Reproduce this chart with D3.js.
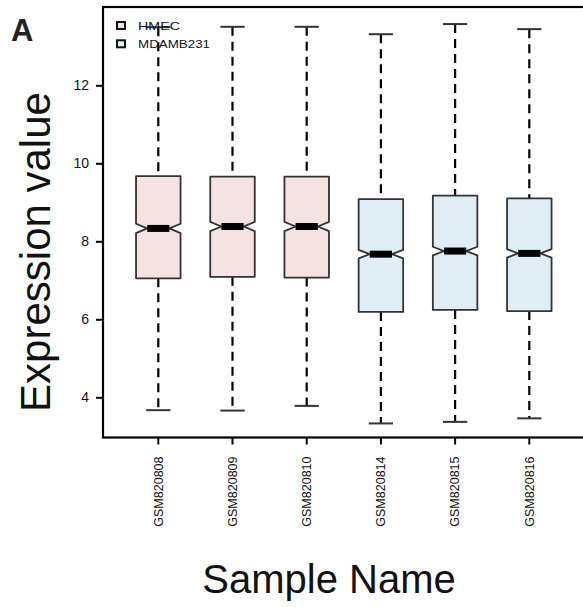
<!DOCTYPE html>
<html>
<head>
<meta charset="utf-8">
<script src="https://cdn.jsdelivr.net/npm/d3@7"></script>
<style>
  body { margin: 0; background: #fff; }
  svg { display: block; font-family: 'Liberation Sans', Arial, sans-serif; }
</style>
</head>
<body>
<div id="chart"></div>
<script>
var samples = ['GSM820808', 'GSM820809', 'GSM820810', 'GSM820814', 'GSM820815', 'GSM820816']
var groups = ['HMEC', 'HMEC', 'HMEC', 'MDAMB231', 'MDAMB231', 'MDAMB231']
var lowWhisker = [3.67, 3.66, 3.78, 3.33, 3.37, 3.46]
var q1 = [7.05, 7.09, 7.07, 6.19, 6.24, 6.21]
var median = [8.33, 8.38, 8.38, 7.67, 7.75, 7.69]
var q3 = [9.67, 9.66, 9.66, 9.08, 9.17, 9.10]
var highWhisker = [13.49, 13.5, 13.5, 13.31, 13.57, 13.44]
var notch = [0.12, 0.12, 0.12, 0.11, 0.11, 0.11]
var yTicks = [4, 6, 8, 10, 12]
var legendGroups = ['HMEC', 'MDAMB231']
var groupColors = ['#f5e2e2', '#e0edf5']

var width = 583
var height = 607
var plot = { left: 103, right: 592, top: 7, bottom: 437.5 }
var font = "'Liberation Sans', Arial, sans-serif"

var svg = d3.select('#chart').append('svg')
  .attr('width', width)
  .attr('height', height)

var y = d3.scaleLinear()
  .domain([4, 12])
  .range([397.3, 85.3])

var x = d3.scaleBand()
  .domain(samples)
  .range([121.2, 566.4])
  .paddingInner(0)

var color = d3.scaleOrdinal()
  .domain(legendGroups)
  .range(groupColors)

var boxW = x.bandwidth() * 0.6
var nd = boxW / 4

var data = samples.map(function (s, i) {
  return {
    name: s,
    group: groups[i],
    lo: lowWhisker[i],
    q1: q1[i],
    med: median[i],
    q3: q3[i],
    hi: highWhisker[i],
    notch: notch[i]
  }
})

var boxes = svg.append('g').selectAll('g')
  .data(data)
  .enter().append('g')
  .attr('transform', function (d) { return 'translate(' + (x(d.name) + x.bandwidth() / 2) + ',0)' })

// whiskers (dashed)
boxes.append('line')
  .attr('y1', function (d) { return y(d.hi) })
  .attr('y2', function (d) { return y(d.q3) })
  .attr('stroke', '#000')
  .attr('stroke-width', 2.2)
  .attr('stroke-dasharray', '9,6')

boxes.append('line')
  .attr('y1', function (d) { return y(d.q1) })
  .attr('y2', function (d) { return y(d.lo) })
  .attr('stroke', '#000')
  .attr('stroke-width', 2.2)
  .attr('stroke-dasharray', '9,6')

// caps
boxes.selectAll('.cap')
  .data(function (d) { return [d.hi, d.lo] })
  .enter().append('line')
  .attr('class', 'cap')
  .attr('x1', -boxW / 4 - 1)
  .attr('x2', boxW / 4 + 1)
  .attr('y1', function (d) { return y(d) })
  .attr('y2', function (d) { return y(d) })
  .attr('stroke', '#333')
  .attr('stroke-width', 2)

// notched boxes
boxes.append('path')
  .attr('d', function (d) {
    var l = -boxW / 2
    var r = boxW / 2
    var nU = y(d.med + d.notch)
    var nL = y(d.med - d.notch)
    var m = y(d.med)
    return 'M' + l + ',' + y(d.q3) + 'L' + r + ',' + y(d.q3) +
      'L' + r + ',' + nU + 'L' + (r - nd) + ',' + m + 'L' + r + ',' + nL +
      'L' + r + ',' + y(d.q1) + 'L' + l + ',' + y(d.q1) +
      'L' + l + ',' + nL + 'L' + (l + nd) + ',' + m + 'L' + l + ',' + nU + 'Z'
  })
  .attr('fill', function (d) { return color(d.group) })
  .attr('stroke', '#333')
  .attr('stroke-width', 1.8)
  .attr('stroke-linejoin', 'round')

// median
boxes.append('line')
  .attr('x1', -boxW / 2 + nd)
  .attr('x2', boxW / 2 - nd)
  .attr('y1', function (d) { return y(d.med) })
  .attr('y2', function (d) { return y(d.med) })
  .attr('stroke', '#000')
  .attr('stroke-width', 7)

// frame
svg.append('rect')
  .attr('x', plot.left)
  .attr('y', plot.top)
  .attr('width', plot.right - plot.left)
  .attr('height', plot.bottom - plot.top)
  .attr('fill', 'none')
  .attr('stroke', '#000')
  .attr('stroke-width', 2.2)

// y axis
var yAxis = svg.append('g')
  .attr('transform', 'translate(' + plot.left + ',0)')
  .call(d3.axisLeft(y).tickValues(yTicks).tickSize(7).tickPadding(7))
yAxis.select('.domain').remove()
yAxis.selectAll('.tick line').attr('stroke', '#000').attr('stroke-width', 2)
yAxis.selectAll('.tick text')
  .attr('fill', '#111')
  .style('font-size', '14px')
  .style('font-family', font)

// x axis
var xAxis = svg.append('g')
  .attr('transform', 'translate(0,' + plot.bottom + ')')
  .call(d3.axisBottom(x).tickSize(7).tickPadding(0))
xAxis.select('.domain').remove()
xAxis.selectAll('.tick line').attr('stroke', '#000').attr('stroke-width', 2)
xAxis.selectAll('.tick text')
  .attr('fill', '#111')
  .attr('transform', 'rotate(-90)')
  .attr('x', -19)
  .attr('y', 0)
  .attr('dy', '0.35em')
  .style('text-anchor', 'end')
  .style('font-size', '12.5px')
  .style('font-family', font)

// axis titles
svg.append('text')
  .attr('transform', 'translate(50,252) rotate(-90)')
  .style('text-anchor', 'middle')
  .style('font-size', '42px')
  .attr('fill', '#111')
  .text('Expression value')

svg.append('text')
  .attr('x', 329)
  .attr('y', 593)
  .style('text-anchor', 'middle')
  .style('font-size', '40px')
  .attr('fill', '#111')
  .text('Sample Name')

// panel letter
svg.append('text')
  .attr('x', 11)
  .attr('y', 41)
  .style('font-size', '31px')
  .style('font-weight', 'bold')
  .attr('fill', '#222')
  .text('A')

// legend
var legendWidths = [42, 72]
var legend = svg.append('g').selectAll('g')
  .data(legendGroups)
  .enter().append('g')
  .attr('transform', function (d, i) { return 'translate(117,' + (22 + i * 18.3) + ')' })

legend.append('rect')
  .attr('width', 8)
  .attr('height', 7)
  .attr('fill', function (d) { return color(d) })
  .attr('stroke', '#111')
  .attr('stroke-width', 2)

legend.append('text')
  .attr('x', 21)
  .attr('y', 7.5)
  .attr('textLength', function (d, i) { return legendWidths[i] })
  .attr('lengthAdjust', 'spacingAndGlyphs')
  .style('font-size', '11px')
  .attr('fill', '#111')
  .text(function (d) { return d })
</script>
</body>
</html>
